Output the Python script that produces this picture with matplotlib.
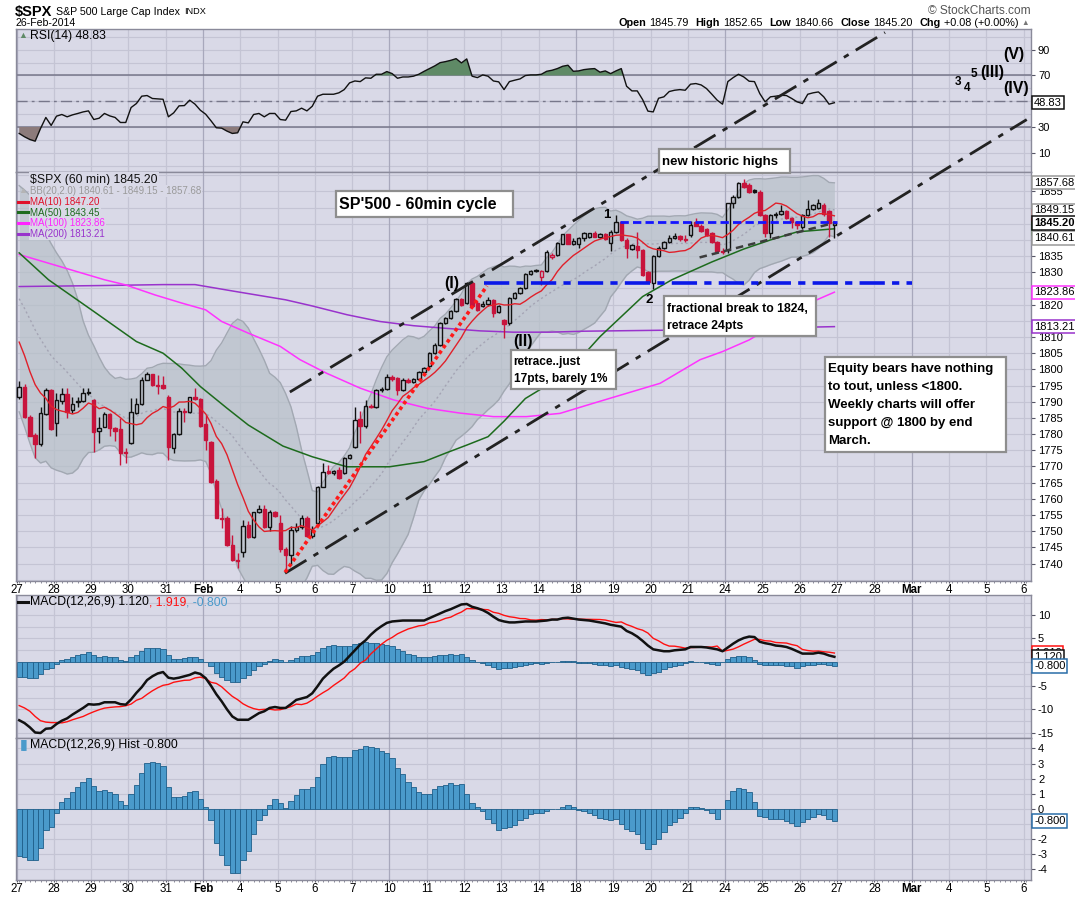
import matplotlib
matplotlib.use("Agg")
import matplotlib.pyplot as plt
from matplotlib.lines import Line2D
from matplotlib.patches import Rectangle
import numpy as np
import pandas as pd

plt.rcParams["font.family"] = ["Liberation Sans", "DejaVu Sans"]

W, H = 1075, 897

BG = "#d9d9e7"
GRID = "#c4c4d4"
GRID_WEEK = "#a8a8bc"
FRAME = "#8a8a9a"
RED = "#c8143c"
INK = "#111111"
HIST_FC = "#4a9acb"
HIST_EC = "#1f5f8a"

# $SPX hourly bars 27-Jan .. 26-Feb-2014, 7 bars per session (one row per day)
bar_open = [
    1791.4, 1794.5, 1785.4, 1779.7, 1776.9, 1786.2, 1793.7,
    1783.3, 1790.3, 1792.3, 1787.3, 1789.8, 1790.3, 1792.6,
    1790.6, 1781.1, 1782.3, 1786.2, 1781.8, 1781.6, 1774.5,
    1777.2, 1786.4, 1789.2, 1796.8, 1798.5, 1795.2, 1795.2,
    1791.6, 1775.6, 1780.0, 1787.2, 1786.9, 1791.4, 1790.8,
    1783.1, 1777.5, 1765.5, 1754.2, 1754.2, 1745.7, 1741.1,
    1743.5, 1751.9, 1748.1, 1756.0, 1757.0, 1751.2, 1755.8,
    1752.5, 1744.5, 1742.6, 1750.5, 1751.2, 1754.0, 1748.6,
    1752.4, 1763.8, 1768.7, 1768.0, 1768.9, 1767.9, 1772.5,
    1776.1, 1784.6, 1782.5, 1788.8, 1788.3, 1793.6, 1794.0,
    1797.8, 1797.3, 1793.6, 1796.8, 1796.2, 1797.0, 1799.3,
    1800.9, 1805.0, 1807.6, 1814.3, 1815.8, 1817.9, 1821.7,
    1820.5, 1826.7, 1820.4, 1819.6, 1820.2, 1821.5, 1817.6,
    1815.3, 1814.3, 1822.0, 1823.6, 1825.1, 1829.5, 1830.3,
    1828.7, 1830.4, 1834.8, 1835.3, 1838.9, 1841.7, 1838.9,
    1838.6, 1840.5, 1841.0, 1842.0, 1841.0, 1841.8, 1839.2,
    1842.5, 1845.6, 1840.0, 1837.2, 1838.0, 1836.9, 1830.2,
    1826.6, 1835.1, 1837.6, 1839.4, 1840.5, 1841.3, 1840.2,
    1841.5, 1845.5, 1844.4, 1843.3, 1842.2, 1839.4, 1836.6,
    1836.9, 1851.3, 1853.4, 1857.5, 1857.0, 1855.3, 1854.9,
    1847.7, 1842.0, 1847.7, 1848.0, 1848.8, 1846.7, 1845.6,
    1844.1, 1847.7, 1849.7, 1849.9, 1850.8, 1848.9, 1844.5,
]
bar_high = [
    1796.4, 1795.5, 1786.0, 1780.2, 1788.5, 1794.2, 1794.0,
    1792.6, 1794.2, 1794.2, 1791.6, 1791.4, 1794.2, 1794.2,
    1791.0, 1785.4, 1786.7, 1786.6, 1782.2, 1784.9, 1775.6,
    1791.1, 1791.1, 1797.6, 1799.1, 1798.7, 1798.3, 1798.1,
    1792.0, 1780.4, 1788.0, 1788.0, 1791.6, 1794.2, 1791.2,
    1786.0, 1778.0, 1766.0, 1757.1, 1754.6, 1748.8, 1743.1,
    1753.5, 1753.2, 1756.0, 1758.1, 1758.1, 1756.5, 1756.2,
    1755.0, 1745.0, 1751.5, 1752.5, 1755.0, 1754.8, 1751.5,
    1764.0, 1771.0, 1770.5, 1769.0, 1769.7, 1773.0, 1774.0,
    1788.5, 1787.0, 1790.6, 1789.2, 1794.0, 1794.6, 1798.6,
    1798.3, 1797.6, 1797.2, 1797.2, 1797.3, 1799.6, 1800.8,
    1805.3, 1808.0, 1814.6, 1816.3, 1818.2, 1822.0, 1822.0,
    1826.9, 1827.0, 1821.0, 1821.2, 1822.5, 1821.8, 1819.9,
    1815.6, 1822.3, 1824.0, 1825.4, 1829.8, 1830.6, 1830.9,
    1830.8, 1836.8, 1836.0, 1839.5, 1841.9, 1841.9, 1840.5,
    1840.8, 1842.5, 1842.3, 1842.8, 1842.2, 1842.3, 1843.0,
    1847.7, 1846.0, 1840.5, 1838.6, 1842.5, 1837.2, 1830.5,
    1835.3, 1838.0, 1839.8, 1841.6, 1842.0, 1841.6, 1841.5,
    1846.0, 1846.8, 1845.0, 1843.6, 1842.5, 1839.8, 1837.6,
    1851.5, 1853.8, 1857.8, 1858.9, 1857.5, 1855.8, 1855.3,
    1848.0, 1848.0, 1848.6, 1850.7, 1849.2, 1847.0, 1845.9,
    1848.0, 1852.3, 1851.0, 1852.6, 1851.3, 1849.2, 1846.0,
]
bar_low = [
    1790.8, 1785.0, 1779.3, 1772.7, 1776.4, 1785.8, 1781.2,
    1779.5, 1789.3, 1784.9, 1786.4, 1788.5, 1789.8, 1792.2,
    1774.6, 1777.4, 1782.1, 1779.5, 1778.0, 1770.4, 1771.0,
    1777.0, 1786.2, 1789.0, 1796.6, 1795.0, 1792.3, 1793.9,
    1772.0, 1774.1, 1779.7, 1783.6, 1786.5, 1790.5, 1782.3,
    1775.1, 1765.0, 1754.0, 1750.9, 1745.5, 1740.9, 1738.5,
    1742.0, 1747.8, 1747.8, 1755.5, 1750.9, 1750.1, 1754.5,
    1743.5, 1737.6, 1739.5, 1749.8, 1750.8, 1748.3, 1748.0,
    1751.8, 1763.5, 1767.8, 1767.5, 1766.0, 1767.6, 1772.2,
    1775.8, 1777.4, 1782.0, 1788.0, 1788.0, 1793.0, 1793.6,
    1796.5, 1792.1, 1793.3, 1795.9, 1795.8, 1796.7, 1799.0,
    1800.5, 1804.7, 1807.3, 1814.0, 1815.5, 1817.6, 1819.7,
    1820.2, 1819.3, 1817.9, 1819.3, 1819.6, 1816.2, 1817.3,
    1809.6, 1813.8, 1821.7, 1823.3, 1824.8, 1829.2, 1830.0,
    1826.1, 1830.0, 1834.2, 1835.0, 1838.6, 1838.6, 1838.5,
    1837.5, 1839.8, 1840.6, 1840.8, 1840.7, 1840.0, 1836.6,
    1842.0, 1839.8, 1834.5, 1836.8, 1834.3, 1828.8, 1826.8,
    1824.8, 1834.8, 1837.3, 1839.0, 1840.2, 1839.8, 1839.5,
    1841.0, 1844.2, 1842.6, 1841.2, 1839.2, 1836.4, 1835.8,
    1836.0, 1850.0, 1853.0, 1856.2, 1854.6, 1854.6, 1847.5,
    1841.0, 1840.5, 1846.8, 1847.7, 1846.4, 1843.6, 1843.5,
    1843.5, 1847.4, 1849.3, 1849.6, 1847.5, 1841.0, 1840.7,
]
bar_close = [
    1794.5, 1785.4, 1779.5, 1776.9, 1786.4, 1793.5, 1781.6,
    1790.6, 1792.3, 1786.7, 1789.2, 1790.3, 1792.6, 1792.9,
    1780.5, 1781.8, 1786.2, 1782.0, 1781.1, 1774.3, 1774.1,
    1786.7, 1789.2, 1796.8, 1798.5, 1795.2, 1794.9, 1794.4,
    1776.1, 1780.0, 1787.2, 1786.9, 1791.4, 1790.8, 1782.6,
    1778.2, 1765.3, 1754.2, 1753.9, 1745.7, 1741.1, 1740.8,
    1751.6, 1748.1, 1755.8, 1756.7, 1751.2, 1755.8, 1754.8,
    1744.5, 1742.6, 1750.5, 1751.2, 1754.0, 1748.6, 1750.5,
    1763.8, 1768.4, 1768.1, 1768.5, 1766.3, 1772.5, 1773.5,
    1784.4, 1782.5, 1788.8, 1788.3, 1793.6, 1794.0, 1797.8,
    1797.0, 1793.6, 1796.8, 1796.2, 1797.0, 1799.3, 1800.4,
    1805.0, 1807.6, 1814.3, 1815.8, 1817.9, 1821.7, 1820.0,
    1826.7, 1819.6, 1818.2, 1820.2, 1821.5, 1817.4, 1819.6,
    1814.1, 1822.0, 1823.6, 1825.1, 1829.5, 1830.3, 1830.6,
    1830.3, 1836.3, 1835.4, 1839.2, 1841.7, 1838.9, 1839.8,
    1840.5, 1842.0, 1842.0, 1841.0, 1841.8, 1840.4, 1842.5,
    1845.6, 1840.0, 1837.4, 1838.4, 1836.9, 1829.1, 1827.1,
    1835.1, 1837.6, 1839.4, 1840.5, 1841.3, 1840.2, 1840.0,
    1844.6, 1844.4, 1842.8, 1841.5, 1839.4, 1836.6, 1836.3,
    1851.3, 1853.4, 1857.5, 1856.5, 1854.9, 1854.9, 1847.7,
    1842.0, 1847.7, 1848.0, 1849.0, 1846.7, 1845.6, 1844.5,
    1847.7, 1849.7, 1850.9, 1851.3, 1847.9, 1845.1, 1845.2,
]
# hourly closes just before the window (22-24 Jan); they only seed MA(10) and BB(20)
prev_close = [1845.5, 1845.0, 1844.0, 1843.5, 1844.9,
              1833.0, 1826.0, 1822.0, 1823.5, 1825.0, 1827.0, 1828.5,
              1818.0, 1812.0, 1810.0, 1806.0, 1801.0, 1797.0, 1790.3]

# longer moving averages, read at points along the lines: (bar index, value)
ma50_at = [0, 5.5, 14, 22, 27, 30.5, 34, 39, 43, 49.5, 55, 61.5, 69.5, 76, 80, 84, 88,
           91, 95, 99, 104.5, 109, 113, 117, 122.5, 130, 136, 141, 146, 153]
ma50 = [1836.0, 1827.7, 1817.9, 1808.6, 1805.0, 1800.4, 1794.7, 1788.0, 1782.8, 1776.3,
        1773.0, 1769.9, 1769.9, 1771.5, 1774.1, 1776.6, 1779.2, 1784.0, 1791.0, 1795.0,
        1801.9, 1810.1, 1816.3, 1822.5, 1827.7, 1833.2, 1837.2, 1840.0, 1842.5, 1843.45]
ma100_at = [0, 16, 20, 25.5, 30.5, 35, 38, 43, 49, 52.7, 57.7, 64, 70.2, 76.5, 82.7, 89,
            95.2, 101.5, 107.7, 114, 120.3, 127.8, 132, 137, 149.7, 153]
ma100 = [1835.5, 1827.7, 1826.1, 1823.0, 1820.5, 1818.4, 1814.8, 1811.2, 1807.1, 1803.0,
         1798.8, 1794.2, 1790.6, 1788.0, 1786.5, 1785.4, 1785.4, 1786.4, 1789.5, 1792.6,
         1795.7, 1803.0, 1805.5, 1809.1, 1821.5, 1823.86]
ma200_at = [0, 15, 27, 33, 40.5, 50, 55, 61.5, 67.7, 74, 80, 86.5, 92.7, 99.6, 106, 121, 153]
ma200 = [1825.6, 1825.9, 1826.2, 1826.2, 1824.1, 1821.5, 1819.6, 1816.9, 1814.8, 1813.5,
         1812.7, 1811.9, 1811.5, 1811.5, 1811.8, 1812.1, 1813.21]

rsi14 = [
    25.0, 22.4, 20.3, 19.0, 28.8, 37.4, 31.2, 38.4, 39.7, 37.9, 39.4, 40.5, 41.7, 42.5,
    35.8, 36.8, 40.5, 38.6, 37.4, 33.5, 33.5, 45.1, 48.2, 53.9, 54.4, 52.1, 51.8, 51.5,
    37.9, 41.0, 46.4, 46.6, 50.8, 47.7, 43.0, 39.9, 34.8, 29.4, 29.1, 26.8, 25.0, 25.5,
    34.0, 33.2, 39.7, 40.5, 37.9, 40.5, 40.5, 35.8, 35.3, 42.0, 42.5, 44.6, 42.5, 46.1,
    53.9, 55.4, 55.4, 55.4, 56.5, 59.0, 64.2, 65.7, 65.2, 68.1, 67.8, 70.9, 70.9, 73.0,
    71.4, 67.8, 68.8, 68.8, 69.4, 70.9, 73.2, 75.3, 77.4, 79.9, 80.7, 81.7, 83.0, 79.7,
    82.8, 69.4, 68.3, 70.4, 69.4, 65.7, 65.0, 59.0, 65.2, 66.3, 67.3, 69.9, 70.4, 70.4,
    70.9, 73.2, 74.0, 75.3, 77.1, 77.9, 73.2, 73.5, 74.5, 75.0, 75.3, 72.5, 73.5, 71.4,
    73.5, 75.3, 61.6, 58.0, 58.0, 51.3, 42.3, 41.7, 52.3, 53.4, 57.5, 58.5, 59.0, 58.5,
    63.2, 63.7, 62.6, 59.8, 55.4, 50.8, 47.7, 65.2, 68.3, 70.9, 68.8, 65.5, 65.2, 55.9,
    49.5, 53.4, 53.9, 54.6, 54.4, 52.1, 49.5, 48.2, 55.4, 56.5, 57.2, 53.4, 47.7, 48.83,
]
macd_line = [
    -12.3, -12.9, -13.8, -14.9, -15.0, -14.1, -14.0, -13.1, -12.4, -11.9, -11.1, -10.4, -9.7, -8.9,
    -9.0, -8.9, -8.5, -8.5, -8.5, -8.9, -9.0, -7.9, -6.5, -5.3, -3.8, -3.0, -2.4, -2.1,
    -3.3, -3.5, -3.3, -3.0, -2.7, -2.2, -2.5, -3.4, -5.0, -6.8, -8.3, -10.0, -11.5, -12.2,
    -12.2, -12.2, -11.5, -10.8, -10.4, -9.7, -9.5, -9.7, -9.7, -8.9, -8.0, -7.7, -7.4, -6.6,
    -5.1, -3.5, -2.4, -1.4, -0.7, 0.1, 1.3, 2.5, 3.7, 4.6, 5.8, 6.8, 7.6, 8.3,
    8.6, 8.7, 8.8, 8.8, 8.8, 8.8, 8.8, 9.3, 9.8, 10.3, 10.8, 11.2, 11.7, 12.2,
    12.3, 11.7, 11.4, 11.0, 10.4, 9.6, 8.9, 8.6, 8.4, 8.4, 8.5, 8.6, 8.6, 8.6,
    8.7, 8.8, 9.0, 9.0, 9.3, 9.4, 9.2, 9.0, 8.9, 8.8, 8.6, 8.4, 8.2, 7.9,
    7.7, 7.5, 6.6, 6.1, 5.4, 4.5, 3.5, 2.7, 2.5, 2.3, 2.3, 2.5, 2.6, 2.7,
    3.2, 3.2, 3.2, 3.1, 2.9, 2.7, 2.3, 3.1, 3.9, 4.6, 5.1, 5.4, 5.3, 4.3,
    4.0, 3.8, 3.5, 3.4, 3.2, 2.8, 2.3, 1.8, 1.8, 1.8, 2.0, 1.8, 1.4, 1.12,
]
macd_hist = [
    -3.1, -3.2, -3.4, -3.4, -2.6, -1.4, -1.2, -0.3, 0.46, 0.72, 1.1, 1.46, 1.8, 2.07,
    1.5, 1.18, 1.24, 1.09, 0.98, 0.52, 0.24, 0.98, 1.57, 2.37, 3.03, 3.07, 3.03, 2.81,
    1.42, 0.76, 0.76, 0.85, 1.11, 1.15, 0.68, 0.11, -0.72, -2.29, -3.07, -3.73, -4.25, -4.25,
    -3.38, -2.79, -1.66, -0.72, -0.41, 0.26, 0.63, 0.37, 0.04, 0.52, 0.89, 1.29, 1.29, 1.42,
    2.11, 2.98, 3.42, 3.53, 3.46, 3.46, 3.46, 3.9, 3.94, 4.16, 4.07, 4.03, 3.81, 3.68,
    3.38, 2.72, 2.29, 1.79, 1.46, 1.13, 0.98, 0.98, 1.33, 1.5, 1.55, 1.68, 1.59, 1.61,
    0.98, 0.41, 0.11, -0.15, -0.68, -0.94, -1.42, -1.29, -1.2, -1.05, -0.72, -0.59, -0.33, -0.28,
    -0.3, -0.15, -0.04, -0.04, 0.13, 0.26, 0.13, -0.09, -0.17, -0.26, -0.43, -0.61, -0.7, -0.74,
    -0.7, -1.0, -1.35, -1.46, -1.67, -2.26, -2.65, -2.33, -2.0, -1.52, -1.09, -0.87, -0.59, -0.26,
    0.13, 0.09, 0.07, -0.09, -0.3, -0.7, 0.0, 0.61, 1.15, 1.37, 1.3, 1.09, 0.48, -0.48,
    -0.52, -0.65, -0.65, -0.7, -0.83, -0.91, -1.17, -0.87, -0.65, -0.52, -0.35, -0.39, -0.7, -0.8,
]

day_labels = ["27", "28", "29", "30", "31", "Feb", "4", "5", "6", "7", "10", "11", "12", "13",
              "14", "18", "19", "20", "21", "24", "25", "26", "27", "28", "Mar", "4", "5", "6"]
week_starts = {0, 5, 10, 15, 19, 24}

# ---------------------------------------------------------------- indicators
n = len(bar_close)
xs = np.arange(n)
day_start = np.arange(len(day_labels)) * 7 - 0.5

k = len(prev_close)
closes = pd.Series(prev_close + bar_close)
ma10 = closes.rolling(10).mean().to_numpy()[k:]
bb_mid = closes.rolling(20).mean().to_numpy()[k:]
bb_sd = closes.rolling(20).std(ddof=0).to_numpy()[k:]
bb_up, bb_dn = bb_mid + 2 * bb_sd, bb_mid - 2 * bb_sd

macd = np.array(macd_line)
hist = np.array(macd_hist)
signal = macd - hist
rsi = np.array(rsi14)

# ---------------------------------------------------------------- layout
fig = plt.figure(figsize=(W / 100, H / 100), dpi=100, facecolor="white")


def fx(x):
    return x / W


def fy(y):
    return 1 - y / H


def rect(x0, y0, x1, y1):
    return [fx(x0), fy(y1), (x1 - x0) / W, (y1 - y0) / H]


ax_rsi = fig.add_axes(rect(16, 29, 1031, 172))
ax = fig.add_axes(rect(16, 172, 1031, 581))
ax_macd = fig.add_axes(rect(16, 595, 1031, 738))
ax_hist = fig.add_axes(rect(16, 738, 1031, 880))


def panel(a, ylim, grid_vals, ticks, hidden=(), xlabels=False):
    a.set_facecolor(BG)
    a.set_xlim(-0.6, 189.9)
    a.set_ylim(*ylim)
    for v in grid_vals:
        a.axhline(v, color=GRID, lw=0.8, zorder=0)
    for d, x in enumerate(day_start):
        a.axvline(x, color=GRID_WEEK if d in week_starts else GRID, lw=0.9, zorder=0)
    for s in a.spines.values():
        s.set_color(FRAME)
        s.set_linewidth(1)
    a.yaxis.tick_right()
    a.set_yticks(ticks)
    # labels that sit under the value tags are left blank, as on the chart
    a.set_yticklabels(["" if t in hidden else f"{t:g}" for t in ticks])
    a.tick_params(axis="y", length=3, width=0.8, color="#555566", labelsize=8, pad=2)
    a.set_xticks(day_start)
    if xlabels:
        a.set_xticklabels(day_labels)
        for t in a.get_xticklabels():
            if t.get_text() in ("Feb", "Mar"):
                t.set_fontweight("bold")
        a.set_xticks(np.arange(0, 190), minor=True)
        a.tick_params(axis="x", which="major", length=1.5, width=0.8, color="#555566",
                      labelsize=8.3, pad=0.5)
        a.tick_params(axis="x", which="minor", length=1.5, width=0.6, color="#777788")
    else:
        a.tick_params(axis="x", length=0, labelbottom=False)


panel(ax_rsi, (-4.9, 106), np.arange(0, 101, 10), [10, 30, 70, 90])
panel(ax, (1734.6, 1861.0), np.arange(1735, 1861, 5), np.arange(1740, 1856, 5),
      hidden=(1815, 1825, 1840, 1845, 1850), xlabels=True)
panel(ax_macd, (-16.06, 14.2), np.arange(-15, 13, 2.5), [10, 5, 0, -5, -10, -15], hidden=(0,))
panel(ax_hist, (-4.72, 4.69), np.arange(-4, 5, 1), [4, 3, 2, 1, 0, -1, -2, -3, -4],
      hidden=(-1,), xlabels=True)

# ---------------------------------------------------------------- RSI
ax_rsi.fill_between(xs, rsi, 70, where=rsi >= 70, interpolate=True, color="#5f8a66", lw=0, zorder=2)
ax_rsi.fill_between(xs, rsi, 30, where=rsi <= 30, interpolate=True, color="#8c7b7b", lw=0, zorder=2)
ax_rsi.axhline(70, color="#77778a", lw=1.1, zorder=1)
ax_rsi.axhline(30, color="#77778a", lw=1.1, zorder=1)
ax_rsi.axhline(50, color="#77778a", lw=1, ls=(0, (8, 3, 2, 3)), zorder=1)
ax_rsi.plot(xs, rsi, color=INK, lw=1, zorder=3)

# ---------------------------------------------------------------- price panel
ax.fill_between(xs, bb_dn, bb_up, color="#b7c0c8", alpha=0.7, lw=0, zorder=1)
ax.plot(xs, bb_up, color="#a2a8b2", lw=1, zorder=2)
ax.plot(xs, bb_dn, color="#a2a8b2", lw=1, zorder=2)
ax.plot(xs, bb_mid, color="#a4a4b4", lw=1, ls=(0, (1.5, 2)), zorder=2)
ax.plot(ma200_at, ma200, color="#9933cc", lw=1.1, zorder=3)
ax.plot(ma100_at, ma100, color="#ff33ff", lw=1.1, zorder=3)
ax.plot(ma50_at, ma50, color="#1d6b1d", lw=1.1, zorder=3)

o, hi, lo, c = (np.array(v) for v in (bar_open, bar_high, bar_low, bar_close))
prev = np.r_[prev_close[-1], c[:-1]]
col = np.where(c >= prev, INK, RED)
top, bot = np.maximum(o, c), np.minimum(o, c)
face = np.where(c < o, col, "none")
ax.vlines(xs, top, hi, colors=col, lw=1, zorder=5)
ax.vlines(xs, lo, bot, colors=col, lw=1, zorder=5)
ax.bar(xs, np.maximum(top - bot, 0.3), bottom=bot, width=0.64, color=face,
       edgecolor=col, lw=1, zorder=5)
ax.plot(xs, ma10, color="#e0202a", lw=1, zorder=6)

# hand-drawn annotation lines
chan = dict(color="#222222", lw=2, ls=(0, (9, 3, 2, 3)), zorder=7, clip_on=False)
ax.plot([50.8, 162.5], [1793.0, 1904.1], **chan)
ax.plot([49.9, 189.1], [1737.0, 1877.2], **chan)
ax.plot([49.9, 87.8], [1737.3, 1825.8], color="#ff1a1a", lw=2.6, ls=(0, (1, 0.9)), zorder=7)
ax.plot([112.7, 153.4], [1845.6, 1845.6], color="#1414ff", lw=2, ls=(0, (3, 1.5)), zorder=7)
ax.plot([87.3, 167.5], [1826.6, 1826.6], color="#0a18e8", lw=2.6, ls=(0, (7, 2, 2, 2)), zorder=7)
ax.plot([127.7, 152.8], [1834.6, 1845.2], color="#3c3c3c", lw=1.8, ls=(0, (3, 2)), zorder=7)

# ---------------------------------------------------------------- MACD panels
ax_macd.bar(xs, hist, width=1.0, color=HIST_FC, edgecolor=HIST_EC, lw=0.6, zorder=2)
ax_macd.plot(xs, signal, color="#ff1010", lw=1, zorder=3)
ax_macd.plot(xs, macd, color=INK, lw=1.8, zorder=4)
ax_hist.bar(xs, hist, width=1.0, color=HIST_FC, edgecolor=HIST_EC, lw=0.6, zorder=2)


# ---------------------------------------------------------------- right-hand value tags
def tag(a, y, s, ec, bold=False, z=8):
    a.text(1.003, y, s, transform=a.get_yaxis_transform(), ha="left", va="center",
           fontsize=8, fontweight="bold" if bold else "normal", zorder=z, clip_on=False,
           bbox=dict(boxstyle="square,pad=0.15", fc="white", ec=ec, lw=1.1))


tag(ax_rsi, 48.83, "48.83", INK)
tag(ax, 1847.20, "1847.20", "#e0202a", z=8)
tag(ax, 1843.45, "1843.45", "#1d6b1d", z=8)
tag(ax, 1857.68, "1857.68", "#999999", z=9)
tag(ax, 1849.15, "1849.15", "#999999", z=9)
tag(ax, 1840.61, "1840.61", "#999999", z=9)
tag(ax, 1845.20, "1845.20", INK, bold=True, z=10)
tag(ax, 1823.86, "1823.86", "#ff33ff", z=9)
tag(ax, 1813.21, "1813.21", "#9933cc", z=9)
tag(ax_macd, 1.919, "1.919", "#ff1010", z=8)
tag(ax_macd, 1.120, "1.120", INK, z=9)
tag(ax_macd, -0.800, "-0.800", "#2a6ea8", z=9)
tag(ax_hist, -0.800, "-0.800", "#2a6ea8", z=9)


# ---------------------------------------------------------------- text helpers
def run(x, y, parts, align="left"):
    r = fig.canvas.get_renderer()
    items = []
    for s, kw, gap in parts:
        t = fig.text(fx(x), fy(y), s, va="center", ha="left", zorder=12, **kw)
        items.append((t, t.get_window_extent(r).width + gap))
    if align == "right":
        x -= sum(w for _, w in items)
    for t, w in items:
        t.set_x(fx(x))
        x += w


def legend_dash(y, color):
    fig.add_artist(Line2D([fx(18), fx(28)], [fy(y), fy(y)], transform=fig.transFigure,
                          color=color, lw=2.2, zorder=13))


def legend_text(y, s, color=INK, size=7):
    fig.text(fx(30), fy(y), s, fontsize=size, color=color, va="center", zorder=12,
             bbox=dict(boxstyle="square,pad=0.12", fc=BG, ec="none"))


def note(x0, y0, x1, y1, lines, tx, ty, dy, size):
    fig.add_artist(Rectangle((fx(x0), fy(y1)), (x1 - x0) / W, (y1 - y0) / H,
                             transform=fig.transFigure, facecolor="white",
                             edgecolor="#8e8e8e", lw=1.6, zorder=20))
    for j, s in enumerate(lines):
        fig.text(fx(tx), fy(ty + j * dy), s, fontsize=size, fontweight="bold",
                 va="center", ha="left", zorder=21)


# header
run(15, 12, [("$SPX", dict(fontsize=10.5, fontweight="bold"), 4),
             ("S&P 500 Large Cap Index", dict(fontsize=7.7), 4),
             ("INDX", dict(fontsize=6.6), 0)])
fig.text(fx(15), fy(23.5), "26-Feb-2014", fontsize=7.6, va="center")
fig.text(fx(1031), fy(10.5), "\u00a9 StockCharts.com", fontsize=8.6, color="#555555",
         va="center", ha="right")
b = dict(fontsize=7.8, fontweight="bold")
r_ = dict(fontsize=7.8)
run(1029, 23.5, [("Open", b, 3), ("1845.79", r_, 7), ("High", b, 3), ("1852.65", r_, 7),
                 ("Low", b, 3), ("1840.66", r_, 7), ("Close", b, 3), ("1845.20", r_, 7),
                 ("Chg", b, 3), ("+0.08 (+0.00%)", r_, 3),
                 ("\u25b2", dict(fontsize=5.5, color="#777777"), 0)], align="right")

# panel legends
fig.text(fx(18), fy(36), "\u25b2", fontsize=6.5, color="#5f8a66", va="center", zorder=12)
fig.text(fx(30), fy(36), "RSI(14) 48.83", fontsize=8.8, va="center", zorder=12)
legend_text(179.5, "$SPX (60 min) 1845.20", size=8.8)
fig.text(fx(18), fy(190.7), "\u25b2", fontsize=6.5, color="#b4b4b4", va="center", zorder=13)
legend_text(190.7, "BB(20,2.0) 1840.61 - 1849.15 - 1857.68", color="#9a9a9a")
for y, s, colr in [(201.7, "MA(10) 1847.20", "#e0102a"), (212.5, "MA(50) 1843.45", "#1d6b1d"),
                   (223.4, "MA(100) 1823.86", "#ff22ff"), (234.2, "MA(200) 1813.21", "#9933cc")]:
    legend_dash(y, colr)
    legend_text(y, s, color=colr)
legend_dash(602.3, INK)
run(30, 602.3, [("MACD(12,26,9) 1.120", dict(fontsize=8.8), 0),
                (", 1.919", dict(fontsize=8.8, color="#ff1010"), 0),
                (", -0.800", dict(fontsize=8.8, color="#4a9acb"), 0)])
fig.text(fx(18), fy(745), "\u2590\u258c", fontsize=6.5, color=HIST_FC, va="center", zorder=12)
fig.text(fx(30), fy(745), "MACD(12,26,9) Hist -0.800", fontsize=8.8, va="center", zorder=12)

# annotation boxes
note(336, 191, 513, 217, ["SP'500 - 60min cycle"], 339, 204, 0, 11.5)
note(659, 149, 790, 173, ["new historic highs"], 662, 161.5, 0, 9.5)
note(664, 296, 816, 336, ["fractional break to 1824,", "retrace 24pts"], 667, 308.7, 17.4, 8.8)
note(511, 350, 616, 389, ["retrace..just", "17pts, barely 1%"], 513.5, 361.7, 17.6, 8.6)
note(825, 357, 1006, 452, ["Equity bears have nothing", "to tout, unless <1800.",
                           "Weekly charts will offer", "support @ 1800 by end", "March."],
     828, 369.3, 17.9, 9.5)

# wave counts
for s, x, y, size in [("(I)", 451.7, 283.3, 11.5), ("(II)", 522.7, 341.7, 11.5),
                      ("1", 606.7, 215.3, 9.5), ("2", 649, 299.7, 9.5),
                      ("3", 958, 81.7, 8.5), ("4", 967.5, 88.3, 8.5), ("5", 974, 74, 8.5),
                      ("(III)", 992.7, 72.7, 11.5), ("(V)", 1014.2, 55, 11.5),
                      ("(IV)", 1016, 88.3, 11.5)]:
    fig.text(fx(x), fy(y), s, fontsize=size, fontweight="bold", ha="center", va="center",
             zorder=12)

fig.savefig("out.png", dpi=100, facecolor="white")
